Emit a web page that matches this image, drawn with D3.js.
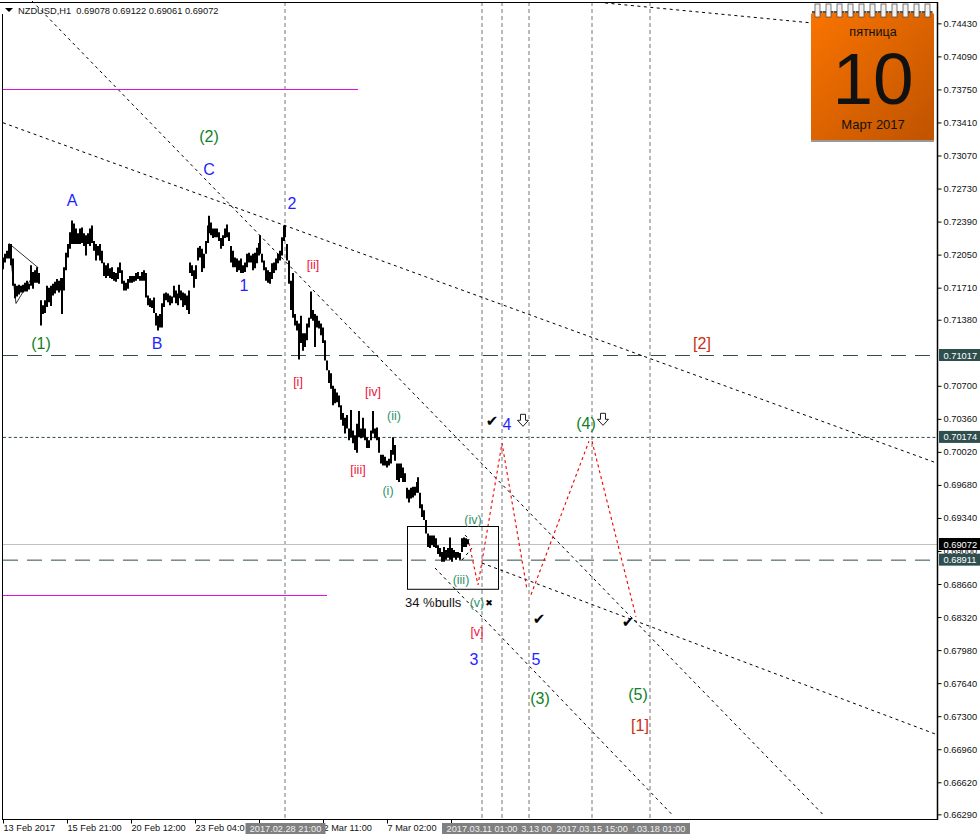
<!DOCTYPE html>
<html><head><meta charset="utf-8">
<script src="https://cdnjs.cloudflare.com/ajax/libs/d3/7.8.5/d3.min.js"></script>
<style>html,body{margin:0;padding:0;background:#fff}svg{display:block}text{font-family:"Liberation Sans",Arial,sans-serif}</style>
</head><body><svg id="c" width="980" height="839"></svg>
<script>
// bar index (hours-on-chart from 13 Feb 2017), with highs / lows in 1e-4 price units
const barIdx=[0,2,4,6,8,10,12,14,16,18,20,22,24,26,28,30,32,34,36,38,40,42,44,46,48,50,52,54,56,58,59,61,63,65,67,69,71,73,75,77,79,81,83,85,87,89,91,93,95,97,99,101,103,105,107,109,111,113,115,117,
119,121,123,125,127,129,131,133,135,137,139,141,143,145,147,149,151,153,155,157,159,161,163,165,167,169,171,173,175,176,178,180,182,184,186,187,189,191,193,195,197,199,201,203,205,206,208,210,212,214,216,218,220,222,224,226,228,230,232,234,236,238,240,242,244,246,248,250,252,254,256,257,259,261,263,265,267,269,271,273,275,277,279,281,282,284,286,288,290,292,294,296,298,300,302,304,306,308,310,312,314,316,318,320,322,324,326,328,330,332,334,336,338,340,342,344,346,348,350,352,354,356,358,360,362,364,366,368,370,372,374,376,378,380,382,384,386,388,390,392,394,396,398,400,402,404,406,408,410,412,414,415,417,419,421,423,425,427,429,431,433,435,437,439,441,443,445,447,449,451,453,455,457,459,461,463,465];
const highPips=[7202,7206,7209,7216,7216,7201,7175,7173,7174,7173,7174,7176,7178,7175,7194,7187,7189,7192,7186,7158,7153,7158,7173,7171,7173,7175,7177,7180,7178,7181,7181,7192,7207,7216,7228,7240,7237,7232,7227,7232,7233,7227,7225,7227,7232,7235,7219,7216,7214,7216,7209,7197,7194,7196,7191,7192,7187,7186,7192,7197,
7189,7178,7176,7180,7183,7183,7183,7186,7187,7183,7187,7189,7186,7163,7160,7158,7161,7145,7142,7144,7155,7165,7166,7165,7163,7162,7173,7168,7165,7174,7168,7166,7165,7163,7168,7197,7194,7189,7194,7212,7214,7211,7206,7219,7235,7245,7238,7232,7232,7232,7228,7222,7225,7232,7236,7228,7214,7209,7202,7201,7199,7201,7194,7197,7206,7207,7204,7206,7207,7212,7217,7225,7206,7199,7192,7189,7187,7196,7197,7201,7206,7209,7223,7235,7235,7216,7199,7178,7186,7144,7137,7134,7142,7124,7124,7134,7140,7167,7148,7144,7142,7137,7134,7130,7117,7096,7086,7083,7070,7067,7063,7060,7050,7042,7037,7040,7026,7045,7024,7019,7031,7044,7026,7037,7026,7017,7014,7024,7044,7026,7027,7017,6999,6999,6997,6993,6995,7004,7017,7009,6990,6990,6990,6986,6980,6965,6963,6965,6966,6966,6971,6976,6960,6948,6942,6932,6918,6916,6916,6916,6913,6906,6903,6899,6904,6901,6903,6914,6903,6901,6899,6899,6898,6913,6914,6913,6912];
const lowPips=[7190,7197,7201,7201,7194,7173,7160,7162,7164,7166,7166,7167,7167,7169,7173,7170,7176,7176,7175,7132,7144,7145,7151,7156,7152,7163,7165,7168,7166,7168,7144,7168,7189,7202,7211,7216,7216,7216,7216,7216,7217,7214,7204,7216,7214,7217,7209,7199,7204,7199,7196,7183,7181,7183,7181,7180,7178,7177,7180,7186,
7175,7168,7168,7170,7176,7176,7177,7178,7180,7178,7178,7178,7161,7153,7151,7150,7145,7132,7127,7130,7130,7151,7158,7156,7153,7155,7161,7155,7153,7160,7158,7151,7153,7148,7144,7186,7183,7171,7180,7199,7202,7187,7191,7206,7217,7227,7225,7222,7223,7223,7219,7211,7214,7222,7223,7219,7197,7192,7192,7187,7189,7186,7186,7187,7192,7197,7197,7189,7191,7196,7204,7206,7197,7189,7178,7176,7175,7180,7186,7189,7196,7199,7204,7219,7223,7199,7175,7148,7140,7132,7127,7097,7114,7106,7110,7117,7130,7139,7137,7110,7130,7129,7122,7114,7096,7086,7073,7067,7050,7052,7053,7048,7035,7029,7021,7026,7014,7017,7011,7004,7001,7017,7016,7017,7014,7006,7006,7014,7021,7016,7014,7001,6990,6988,6988,6986,6988,6990,6999,6993,6973,6971,6975,6971,6971,6954,6950,6954,6955,6957,6960,6960,6944,6935,6932,6918,6904,6903,6906,6904,6903,6897,6894,6889,6889,6891,6893,6891,6889,6893,6891,6893,6891,6899,6904,6904,6907];

const ohlc=["0.69078","0.69122","0.69061","0.69072"];
const priceTicks=[0.74430,0.74090,0.73750,0.73410,0.73070,0.72730,0.72390,0.72050,0.71710,0.71380,0.70700,0.70360,0.70020,0.69680,0.69340,0.69000,0.68660,0.68320,0.67980,0.67640,0.67300,0.66960,0.66620,0.66290];
const timeTickIdx=[0,64,128,192,256,320,384,448];
const timeTickLabels=["13 Feb 2017","15 Feb 21:00","20 Feb 12:00","23 Feb 04:0","","2 Mar 11:00","7 Mar 02:00",""];
const vLineIdx=[282,479,499,526,589,647];
const levelPrices=[0.71017,0.70174,0.69072,0.68911];
const trendLines=[[29,7466,820,6628.8],[0,7340.7,934,6990.4],[602,7464,809,7443.4],[479,6887.6,934,6711],[432,6882.5,669,6628.8],[462,6916.4,467,6911.3],[459,6890.7,469,6903]];
const magentaLines=[[0,355,7375],[0,324,6854.8]];
const triangle=[[6,7216.4],[35,7191.7],[13,7154.7],[6,7216.4]];
const zigzagA=[[466,6908.2],[475,6865],[499,7011],[524,6860]];
const zigzagB=[[528,6855],[586,7013]];
const zigzagC=[[589,7013],[633,6832.2]];
const boxRange=[404,495,6925.6,6861];
const blue="#1f1fff",green="#0f7f1f",teal="#2f8f6a",red="#f0103c",brick="#c8300f";
const labelText=["A","B","C","(2)","(1)","1","2","3","4","5","(3)","(4)","(5)","[1]","[2]","[ii]","[i]","[iv]","[iii]","[v]","(ii)","(i)","(iv)","(iii)","(v)"];
const labelIdx=[69,154,206,206,38,241,289,471,504,533,537,583,635,637,699,310,295,370,355,474,391,385,470,458,474];
const labelPips=[7260.5,7113.6,7292.4,7326.3,7113.6,7173.2,7257.5,6788,7030.4,6788,6747.9,7031.5,6752,6720.2,7113.6,7194.8,7073.6,7063.3,6983.2,6816.8,7038.6,6961.6,6931.8,6870.2,6846.5];
const labelColor=[blue,blue,blue,green,green,blue,blue,blue,blue,blue,green,green,green,brick,brick,red,red,red,red,red,teal,teal,teal,teal,teal];
const labelSize=[16,16,16,16,16,16,16,16,16,16,16,16,16,16,16,12.5,12.5,12.5,12.5,12.5,12.5,12.5,12.5,12.5,12.5];
const checkMarks=[[489,7033.5],[536,6830.1],[625,6827]];
const crossMarks=[[486,6846.5]];
const arrowMarks=[[520,7034.5],[600,7035.5]];

const svg=d3.select("#c");
const x=d3.scaleLinear().domain([0,934]).range([3,937]);
const y=d3.scaleLinear().domain([0.69072,0.71017]).range([544,355]);
const yp=p=>y(p/10000);

// levels and verticals
svg.selectAll(".v").data(vLineIdx).join("line").attr("x1",d=>x(d)).attr("x2",d=>x(d)).attr("y1",2).attr("y2",819)
  .attr("stroke","#777").attr("stroke-dasharray","4,3");
const lvlStyle=[["#2f4f4f","15,9"],["#2f4f4f","3,2.5"],["#c0c0c0",null],["#2f4f4f","15,9"]];
svg.selectAll(".l").data(levelPrices).join("line").attr("x1",3).attr("x2",937).attr("y1",d=>y(d)+.5).attr("y2",d=>y(d)+.5)
  .attr("stroke",(d,i)=>lvlStyle[i][0]).attr("stroke-dasharray",(d,i)=>lvlStyle[i][1]);

// trend lines
svg.selectAll(".t").data(trendLines).join("line").attr("x1",d=>x(d[0])).attr("y1",d=>yp(d[1])).attr("x2",d=>x(d[2])).attr("y2",d=>yp(d[3]))
  .attr("stroke","#000").attr("stroke-dasharray","3,3.5");
svg.selectAll(".m").data(magentaLines).join("line").attr("x1",d=>x(d[0])).attr("x2",d=>x(d[1])).attr("y1",d=>Math.round(yp(d[2]))+.5).attr("y2",d=>Math.round(yp(d[2]))+.5)
  .attr("stroke","#e010e0");
const ln=d3.line().x(d=>x(d[0])).y(d=>yp(d[1]));
svg.append("path").attr("d",ln(triangle)).attr("fill","none").attr("stroke","#000").attr("stroke-width",.8);
[zigzagA,zigzagB,zigzagC].forEach(z=>svg.append("path").attr("d",ln(z)).attr("fill","none").attr("stroke","#f00000").attr("stroke-width",1.1).attr("stroke-dasharray","3,3"));
svg.append("rect").attr("x",x(boxRange[0])+.5).attr("width",x(boxRange[1])-x(boxRange[0])).attr("y",Math.round(yp(boxRange[2]))+.5).attr("height",yp(boxRange[3])-yp(boxRange[2]))
  .attr("fill","none").attr("stroke","#000");

// price bars
svg.selectAll(".b").data(barIdx).join("line").attr("x1",d=>x(d)).attr("x2",d=>x(d))
  .attr("y1",(d,i)=>yp(highPips[i])).attr("y2",(d,i)=>yp(lowPips[i])).attr("stroke","#000").attr("stroke-width",2);

// wave labels
svg.selectAll(".w").data(labelText).join("text").text(d=>d).attr("x",(d,i)=>x(labelIdx[i])).attr("y",(d,i)=>yp(labelPips[i]))
  .attr("text-anchor","middle").attr("dominant-baseline","central").attr("fill",(d,i)=>labelColor[i]).attr("font-size",(d,i)=>labelSize[i]);
svg.selectAll(".chk").data(checkMarks).join("text").text("\u2714").attr("x",d=>x(d[0])).attr("y",d=>yp(d[1]))
  .attr("text-anchor","middle").attr("dominant-baseline","central").attr("font-size",15).attr("fill","#000").style("font-family","'DejaVu Sans'");
svg.selectAll(".crs").data(crossMarks).join("text").text("\u2716").attr("x",d=>x(d[0])).attr("y",d=>yp(d[1]))
  .attr("text-anchor","middle").attr("dominant-baseline","central").attr("font-size",9).attr("fill","#000").style("font-family","'DejaVu Sans'");
svg.selectAll(".arr").data(arrowMarks).join("path")
  .attr("transform",d=>`translate(${x(d[0])},${yp(d[1])})`)
  .attr("d","M-2.5,-6H2.5V0H5.5L0,6L-5.5,0H-2.5Z").attr("fill","#fff").attr("stroke","#222").attr("stroke-width",1);
svg.append("text").text("34 %bulls").attr("x",405).attr("y",yp(6846.5)).attr("dominant-baseline","central").attr("font-size",13).attr("fill","#111");

// frame
const frame=svg.append("g").attr("stroke","#000");
frame.append("line").attr("x1",0).attr("x2",938).attr("y1",2.5).attr("y2",2.5);
frame.append("line").attr("x1",2.5).attr("x2",2.5).attr("y1",14).attr("y2",819);
frame.append("line").attr("x1",937.5).attr("x2",937.5).attr("y1",2).attr("y2",820).attr("stroke-width",1.5);
frame.append("line").attr("x1",2).attr("x2",938).attr("y1",819.5).attr("y2",819.5).attr("stroke-width",1.2);

// header
svg.append("path").attr("d",d3.line()([[5,8],[13,8],[9,12]])+"Z").attr("fill","#000");
svg.append("text").text("NZDUSD,H1  "+ohlc.join(" ")).attr("x",18).attr("y",13.5).attr("font-size",9.3).attr("fill","#111").attr("xml:space","preserve");

// y axis
const yAxis=svg.append("g").attr("transform","translate(937.5,0)").call(d3.axisRight(y).tickValues(priceTicks).tickFormat(d3.format(".5f")).tickSize(4).tickPadding(2));
yAxis.select(".domain").remove();
yAxis.selectAll("text").attr("font-size",9.3).attr("fill","#111").style("font-family","'Liberation Sans'");
const levelFill=["#2f4f4f","#2f4f4f","#000","#2f4f4f"];
levelPrices.forEach((p,i)=>{
  svg.append("rect").attr("x",939).attr("width",41).attr("y",y(p)-6).attr("height",12).attr("fill",levelFill[i]);
  svg.append("text").text(d3.format(".5f")(p)).attr("x",943.5).attr("y",y(p)+.5).attr("dominant-baseline","central").attr("font-size",9.3).attr("fill","#fff");
});

// x axis
const xAxis=svg.append("g").attr("transform","translate(0,819.5)").call(d3.axisBottom(x).tickValues(timeTickIdx).tickFormat((d,i)=>timeTickLabels[i]).tickSize(4).tickPadding(1));
xAxis.select(".domain").remove();
xAxis.selectAll("text").attr("text-anchor","start").attr("font-size",9.2).attr("fill","#111").style("font-family","'Liberation Sans'");
const gray="#808080";
svg.append("rect").attr("x",245.5).attr("y",823).attr("width",80).attr("height",11).attr("fill",gray);
svg.append("rect").attr("x",442).attr("y",823).attr("width",248).attr("height",11).attr("fill",gray);
const vLabelShown=["2017.02.28 21:00","2017.03.11 01:00","3.13 00","2017.03.15 15:00","'.03.18 01:00"];
const vLabelX=[285.5,482,536.5,592,659];
svg.selectAll(".vl").data(vLabelShown).join("text").text(d=>d).attr("x",(d,i)=>vLabelX[i]).attr("y",832).attr("text-anchor","middle").attr("font-size",9.2).attr("fill","#f0f0f0");

// calendar
const defs=svg.append("defs");
const g=defs.append("linearGradient").attr("id","cal").attr("x1",0).attr("y1",0).attr("x2",1).attr("y2",1);
g.append("stop").attr("offset",0).attr("stop-color","#f97400");
g.append("stop").attr("offset",1).attr("stop-color","#bf5300");
svg.append("rect").attr("x",811).attr("y",139).attr("width",123).attr("height",3).attr("fill","#999");
svg.append("rect").attr("x",811).attr("y",13).attr("width",123).attr("height",127).attr("rx",1.5).attr("fill","url(#cal)");
const rings=d3.range(11);
const cal=svg.append("g");
cal.selectAll(".s").data(rings).join("rect").attr("x",d=>812+d*11).attr("y",11).attr("width",10.5).attr("height",2).attr("fill","#555");
cal.selectAll(".r").data(rings).join("rect").attr("x",d=>815+d*11).attr("y",4).attr("width",5).attr("height",13).attr("fill","#f2f2f2").attr("stroke","#444").attr("stroke-width",.7);
const dayNames=["пятница","10","Март 2017"],dayY=[32,78,124],daySz=[12.5,73,13];
cal.selectAll(".d").data(dayNames).join("text").text(d=>d).attr("x",873).attr("y",(d,i)=>dayY[i]).attr("text-anchor","middle").attr("dominant-baseline","central").attr("font-size",(d,i)=>daySz[i]).attr("fill","#111");
</script></body></html>
